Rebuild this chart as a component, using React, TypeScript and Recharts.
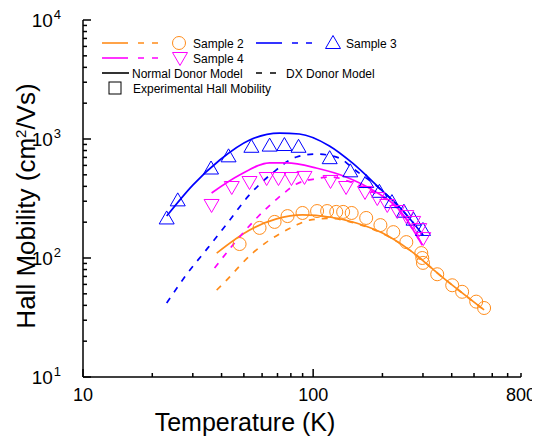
import { ComposedChart, Line, Scatter, XAxis, YAxis } from "recharts";

// temperature (K) / Hall mobility (cm2/Vs)
const s2Temp = [47.9, 58.5, 68, 77.4, 89.9, 104, 115, 126, 135, 147, 170, 196, 223, 254, 295, 298, 300, 346, 402, 444, 511, 553];
const s2Mob = [131, 179, 201, 225, 239, 248, 248, 244, 244, 239, 217, 189, 165, 136, 110, 100, 91, 73, 59, 52, 43, 38];
const s2NormalTemp = [38.1, 53, 69.3, 89.9, 117.7, 154, 200, 262, 364, 553];
const s2NormalMob = [110, 172, 213, 230, 221, 197, 162, 117, 69, 36.6];
const s2DxTemp = [38.1, 43.4, 48.4, 54.6, 62.1, 71.4, 83, 96.4, 118, 154, 200, 262, 364, 553];
const s2DxMob = [53.8, 69.3, 87.4, 110, 134, 159, 186, 208, 215, 195, 161, 117, 69, 36.6];

const s3Temp = [23.1, 25.8, 36, 42.9, 53.9, 64.7, 75, 86.4, 118, 145, 170, 194, 220, 248, 273, 300];
const s3Mob = [215, 305, 565, 715, 860, 880, 890, 860, 690, 535, 435, 360, 295, 245, 210, 172];
const s3NormalTemp = [23.1, 30, 39.3, 53, 71.4, 87.2, 117.7, 148, 194, 244, 300];
const s3NormalMob = [225, 410, 666, 981, 1122, 1102, 874, 629, 387, 253, 156];
const s3DxTemp = [23.1, 28.5, 34.8, 42.5, 51.9, 66.6, 84.7, 103, 130, 150, 194, 244, 300];
const s3DxMob = [41.9, 74.8, 121, 197, 326, 518, 706, 748, 692, 560, 385, 252, 156];

const s4Temp = [36.2, 44.3, 52.9, 62.8, 70.7, 80.5, 91.7, 119, 139, 168, 190, 210, 232, 254, 272, 289, 301];
const s4Mob = [279, 395, 435, 470, 470, 470, 480, 444, 395, 359, 319, 279, 248, 225, 201, 175, 147];
const s4NormalTemp = [36.2, 47.9, 64.7, 76.6, 103, 139, 181, 237, 298];
const s4NormalMob = [352, 498, 629, 629, 571, 480, 373, 253, 128];
const s4DxTemp = [37.3, 45.6, 57.4, 72.9, 84.7, 101, 120, 143, 181, 237, 298];
const s4DxMob = [82.4, 134, 221, 338, 419, 461, 480, 440, 360, 250, 128];

const xTicks = [10, 20, 30, 40, 50, 60, 70, 80, 90, 100, 200, 300, 400, 500, 600, 700, 800];
const xLabels = [10, 100, 800];
const yTicks = [
  10, 20, 30, 40, 50, 60, 70, 80, 90,
  100, 200, 300, 400, 500, 600, 700, 800, 900,
  1000, 2000, 3000, 4000, 5000, 6000, 7000, 8000, 9000, 10000,
];
const yLabels = [10, 100, 1000, 10000];

const zip = (xs: number[], ys: number[]) => xs.map((x, i) => ({ x, y: ys[i] }));

const W = 532;
const H = 432;
const LEFT = 75;
const RIGHT = 513;
const TOP = 12;
const BOTTOM = 369;
const FONT = "'Liberation Sans', Arial, sans-serif";

const ORANGE = "#ff8c1a";
const BLUE = "#0000ff";
const MAGENTA = "#ff00ff";
const FRAME = "#000";

const isMajor = (v: number) => Math.abs(Math.log10(v) - Math.round(Math.log10(v))) < 1e-9;

// tick marks point inward on all four sides
const BottomTick = (props: any) => {
  const { x, payload } = props;
  const v = payload.value;
  const len = isMajor(v) ? 8 : 4;
  return (
    <g>
      <rect x={x - 0.75} y={BOTTOM - len} width={1.5} height={len} fill={FRAME} />
      {xLabels.includes(v) && (
        <text x={x} y={BOTTOM + 24} textAnchor="middle" fontSize={18} fontFamily={FONT} fill="#000">
          {v}
        </text>
      )}
    </g>
  );
};

const TopTick = (props: any) => {
  const len = isMajor(props.payload.value) ? 8 : 4;
  return <rect x={props.x - 0.75} y={TOP} width={1.5} height={len} fill={FRAME} />;
};

const LeftTick = (props: any) => {
  const { y, payload } = props;
  const v = payload.value;
  return (
    <g>
      <rect x={LEFT} y={y - 0.75} width={isMajor(v) ? 8 : 4} height={1.5} fill={FRAME} />
      {yLabels.includes(v) && (
        <text x={LEFT - 22} y={y + 7} textAnchor="end" fontSize={19} fontFamily={FONT} fill="#000">
          10
          <tspan dx={1} dy={-8} fontSize={13}>
            {Math.round(Math.log10(v))}
          </tspan>
        </text>
      )}
    </g>
  );
};

const RightTick = (props: any) => {
  const len = isMajor(props.payload.value) ? 8 : 4;
  return <rect x={RIGHT - len} y={props.y - 0.75} width={len} height={1.5} fill={FRAME} />;
};

const circle = (color: string) => (p: any) => (
  <circle cx={p.cx} cy={p.cy} r={6.5} fill="none" stroke={color} strokeWidth={1} />
);
const triUp = (color: string) => (p: any) => (
  <path
    d={`M${p.cx},${p.cy - 7.5}L${p.cx + 7.5},${p.cy + 5.5}L${p.cx - 7.5},${p.cy + 5.5}Z`}
    fill="none"
    stroke={color}
    strokeWidth={1}
  />
);
const triDown = (color: string) => (p: any) => (
  <path
    d={`M${p.cx},${p.cy + 7.5}L${p.cx + 7.5},${p.cy - 5.5}L${p.cx - 7.5},${p.cy - 5.5}Z`}
    fill="none"
    stroke={color}
    strokeWidth={1}
  />
);

function LegendBox() {
  const txt = { fontSize: 12, fontFamily: FONT, fill: "#000" };
  return (
    <g>
      <line x1={94} x2={120} y1={35} y2={35} stroke={ORANGE} strokeWidth={1.6} />
      <line x1={130} x2={156} y1={35} y2={35} stroke={ORANGE} strokeWidth={1.6} strokeDasharray="6 8" />
      {circle(ORANGE)({ cx: 171, cy: 35 })}
      <text x={185} y={39.5} {...txt}>Sample 2</text>

      <line x1={248} x2={274} y1={35} y2={35} stroke={BLUE} strokeWidth={1.6} />
      <line x1={284} x2={310} y1={35} y2={35} stroke={BLUE} strokeWidth={1.6} strokeDasharray="6 8" />
      {triUp(BLUE)({ cx: 325, cy: 35 })}
      <text x={338} y={39.5} {...txt}>Sample 3</text>

      <line x1={94} x2={120} y1={50} y2={50} stroke={MAGENTA} strokeWidth={1.6} />
      <line x1={130} x2={156} y1={50} y2={50} stroke={MAGENTA} strokeWidth={1.6} strokeDasharray="6 8" />
      {triDown(MAGENTA)({ cx: 172, cy: 50 })}
      <text x={185} y={54.5} {...txt}>Sample 4</text>

      <line x1={94} x2={121} y1={65} y2={65} stroke="#000" strokeWidth={1.6} />
      <text x={124} y={69.5} {...txt}>Normal Donor Model</text>
      <line x1={248} x2={272} y1={65} y2={65} stroke="#000" strokeWidth={1.6} strokeDasharray="6 8" />
      <text x={278} y={69.5} {...txt}>DX Donor Model</text>

      <rect x={101} y={74} width={12} height={12} fill="none" stroke="#000" strokeWidth={1} />
      <text x={125} y={84.5} {...txt}>Experimental Hall Mobility</text>
    </g>
  );
}

export default function App() {
  const ax = { xAxisId: "b", yAxisId: "l" };
  const lineProps = { type: "monotone" as const, dataKey: "y", dot: false, strokeWidth: 1.7, isAnimationActive: false };
  const axisLine = { stroke: FRAME, strokeWidth: 1.5 };
  return (
    <div style={{ position: "relative", width: W, height: H }}>
      <ComposedChart width={W} height={H} margin={{ top: TOP, right: W - RIGHT, bottom: 0, left: 0 }}>
        <XAxis
          xAxisId="b"
          type="number"
          dataKey="x"
          scale="log"
          domain={[10, 800]}
          ticks={xTicks}
          interval={0}
          allowDataOverflow
          height={H - BOTTOM}
          tickLine={false}
          tick={<BottomTick />}
          axisLine={axisLine}
        />
        <XAxis
          xAxisId="t"
          orientation="top"
          type="number"
          dataKey="x"
          scale="log"
          domain={[10, 800]}
          ticks={xTicks}
          interval={0}
          allowDataOverflow
          height={0}
          tickLine={false}
          tick={<TopTick />}
          axisLine={axisLine}
        />
        <YAxis
          yAxisId="l"
          type="number"
          dataKey="y"
          scale="log"
          domain={[10, 10000]}
          ticks={yTicks}
          interval={0}
          allowDataOverflow
          width={LEFT}
          tickLine={false}
          tick={<LeftTick />}
          axisLine={axisLine}
        />
        <YAxis
          yAxisId="r"
          orientation="right"
          type="number"
          dataKey="y"
          scale="log"
          domain={[10, 10000]}
          ticks={yTicks}
          interval={0}
          allowDataOverflow
          width={0}
          tickLine={false}
          tick={<RightTick />}
          axisLine={axisLine}
        />

        <Line {...ax} {...lineProps} data={zip(s2NormalTemp, s2NormalMob)} stroke={ORANGE} />
        <Line {...ax} {...lineProps} data={zip(s2DxTemp, s2DxMob)} stroke={ORANGE} strokeDasharray="6 7" />
        <Line {...ax} {...lineProps} data={zip(s3NormalTemp, s3NormalMob)} stroke={BLUE} />
        <Line {...ax} {...lineProps} data={zip(s3DxTemp, s3DxMob)} stroke={BLUE} strokeDasharray="6 7" />
        <Line {...ax} {...lineProps} data={zip(s4NormalTemp, s4NormalMob)} stroke={MAGENTA} />
        <Line {...ax} {...lineProps} data={zip(s4DxTemp, s4DxMob)} stroke={MAGENTA} strokeDasharray="6 7" />

        <Scatter {...ax} data={zip(s2Temp, s2Mob)} shape={circle(ORANGE)} isAnimationActive={false} />
        <Scatter {...ax} data={zip(s3Temp, s3Mob)} shape={triUp(BLUE)} isAnimationActive={false} />
        <Scatter {...ax} data={zip(s4Temp, s4Mob)} shape={triDown(MAGENTA)} isAnimationActive={false} />
      </ComposedChart>

      <svg width={W} height={H} style={{ position: "absolute", left: 0, top: 0, pointerEvents: "none" }}>
        <LegendBox />
        <text x={237} y={423} textAnchor="middle" fontSize={25} fontFamily={FONT} fill="#000">
          Temperature (K)
        </text>
        <text
          x={27}
          y={198}
          textAnchor="middle"
          fontSize={26}
          fontFamily={FONT}
          fill="#000"
          transform="rotate(-90, 27, 198)"
        >
          Hall Mobility (cm
          <tspan dy={-9} fontSize={15}>2</tspan>
          <tspan dy={9}>/Vs)</tspan>
        </text>
      </svg>
    </div>
  );
}
